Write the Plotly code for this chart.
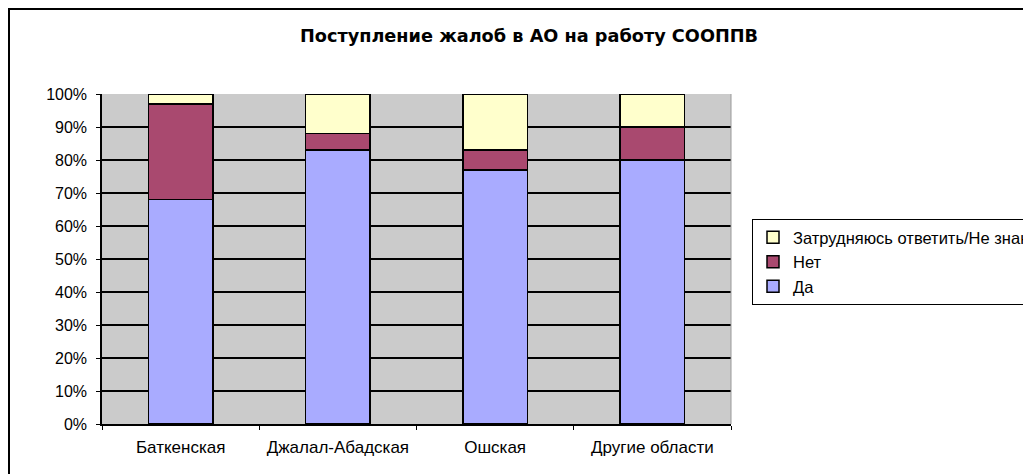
import plotly.graph_objects as go

# Доли ответов по областям
regions = ["Баткенская", "Джалал-Абадская", "Ошская", "Другие области"]
da = [0.68, 0.83, 0.77, 0.80]
net = [0.29, 0.05, 0.06, 0.10]
ne_znayu = [0.03, 0.12, 0.17, 0.10]

series_names = ["Да", "Нет", "Затрудняюсь ответить/Не знаю"]
series_colors = ["#A9ABFF", "#A9496F", "#FFFFCC"]

# страница сдвигает фигуру на 8px (отступ body), поэтому координаты с поправкой
OFF = 8
W, H = 1031, 474
L, T = 102 - OFF, 94 - OFF
R, B = W - (731 - OFF), H - (424 - OFF)
pw, ph = W - L - R, H - T - B


def px(x):
    return (x - OFF - L) / pw


def py(y):
    return (H - B - (y - OFF)) / ph


fig = go.Figure()
for name, vals, color in zip(series_names, [da, net, ne_znayu], series_colors):
    fig.add_trace(go.Bar(
        x=regions, y=vals, name=name,
        marker=dict(color=color, line=dict(color="black", width=1.5)),
    ))

font = "Liberation Sans, Arial, sans-serif"

# рамка диаграммы (видны только верх и левый край)
fig.add_shape(type="rect", xref="paper", yref="paper",
              x0=px(OFF + 1), x1=px(W + 40), y0=py(H + 40), y1=py(OFF + 1),
              line=dict(color="black", width=2), fillcolor="rgba(0,0,0,0)", layer="below")
# правая граница области построения
fig.add_shape(type="line", xref="paper", yref="paper", x0=1, x1=1, y0=0, y1=1,
              line=dict(color="#999999", width=1))

fig.update_layout(
    width=W, height=H,
    margin=dict(l=L, r=R, t=T, b=B, autoexpand=False),
    barmode="stack", bargap=0.59,
    paper_bgcolor="white", plot_bgcolor="#CBCBCB",
    font=dict(family=font, size=16, color="black"),
    title=dict(text="<b>Поступление жалоб в АО на работу СООППВ</b>",
               x=(529 - OFF) / W, xanchor="center", y=1 - (36 - OFF) / H, yanchor="middle",
               font=dict(family="DejaVu Sans, sans-serif", size=17.7)),
    legend=dict(
        x=px(752), xanchor="left", y=py(219), yanchor="top",
        traceorder="reversed", bgcolor="white", bordercolor="black", borderwidth=1,
        font=dict(size=16.5),
    ),
    xaxis=dict(showline=True, linecolor="black", linewidth=1.5,
               ticks="outside", tickson="boundaries", ticklen=4, tickcolor="black",
               ticklabelstandoff=7, showgrid=False, tickfont=dict(size=17)),
    yaxis=dict(range=[0, 1], dtick=0.1, tickformat=".0%",
               showline=True, linecolor="black", linewidth=1.5,
               ticks="outside", ticklen=4, tickcolor="black",
               showgrid=True, gridcolor="black", gridwidth=1.5,
               zeroline=False, ticklabelstandoff=6, tickfont=dict(size=16)),
)

fig.write_html("out.html")
